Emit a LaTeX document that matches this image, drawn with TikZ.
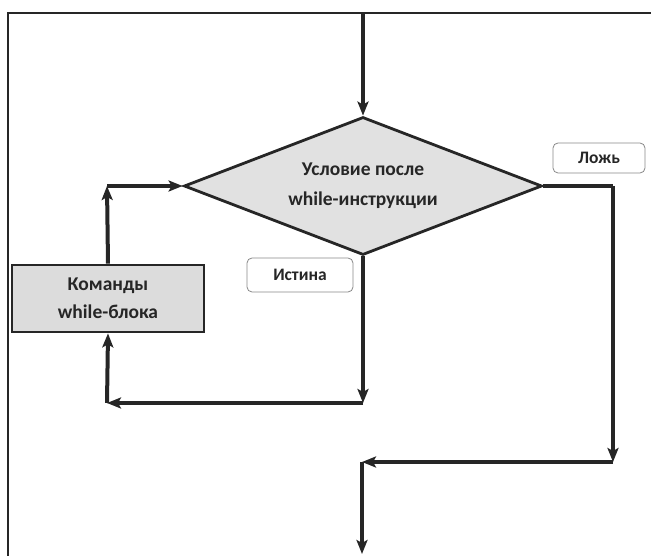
\documentclass[tikz,border=0pt]{standalone}
\usepackage{fontspec}
\setmainfont{Carlito}
\usetikzlibrary{arrows.meta,positioning,shapes.geometric}
\definecolor{ink}{HTML}{262626}
\definecolor{shade}{HTML}{DCDCDC}
\tikzset{
  decision/.style={diamond,draw=ink,line width=2.8pt,fill=shade!85,aspect=2.6,
    minimum width=358pt,minimum height=138pt,inner sep=0pt,
    font=\fontsize{19.5}{30}\selectfont\bfseries,text=ink,align=center},
  process/.style={rectangle,draw=ink,line width=2.8pt,fill=shade,
    minimum width=192pt,minimum height=67pt,inner sep=0pt,
    font=\fontsize{19.5}{28}\selectfont\bfseries,text=ink,align=center},
  tag/.style={rectangle,rounded corners=5pt,draw=ink!55,line width=0.8pt,fill=white,
    inner sep=0pt,font=\fontsize{17.5}{18}\selectfont\bfseries,text=ink},
  arrow/.style={-{Stealth[length=14pt,width=11pt,inset=3pt]},line width=4pt,draw=ink},
  wire/.style={line width=4pt,draw=ink},
  frame/.style={line width=1.4pt,draw=ink}
}
\begin{document}
\begin{tikzpicture}[x=1pt,y=-1pt]
  \useasboundingbox (0,0) rectangle (651,556);
  \draw[frame] (8,556) -- (8,13) -- (651,13);

  \node[decision] (cond) at (363,186) {Условие после\\while-инструкции};
  \node[process] (body) at (108,298.5) {Команды\\while-блока};
  \node[tag,minimum width=106pt,minimum height=34pt] (yes) at (300,275) {Истина};
  \node[tag,minimum width=92pt,minimum height=30pt] (no) at (599,158) {Ложь};

  \coordinate (entry) at (363,13);
  \coordinate (down) at (363,403);
  \coordinate (back) at (107,403);
  \coordinate (up) at (107,186);
  \coordinate (side) at (613,186);
  \coordinate (turn) at (613,462);
  \coordinate (join) at (362,462);
  \coordinate (exit) at (362,554);

  \draw[arrow] (entry) -- (cond.north);
  % loop body
  \draw[arrow] (cond.south) -- (down);
  \draw[arrow] (down) -- (back);
  \draw[arrow] (back) -- (body.south);
  \draw[arrow] (body.north) -- (up);
  \draw[arrow] (up) -- (cond.west);
  % exit
  \draw[wire] (cond.east) -- (side);
  \draw[arrow] (side) -- (turn);
  \draw[arrow] (turn) -- (join);
  \draw[arrow] (join) -- (exit);
\end{tikzpicture}
\end{document}
